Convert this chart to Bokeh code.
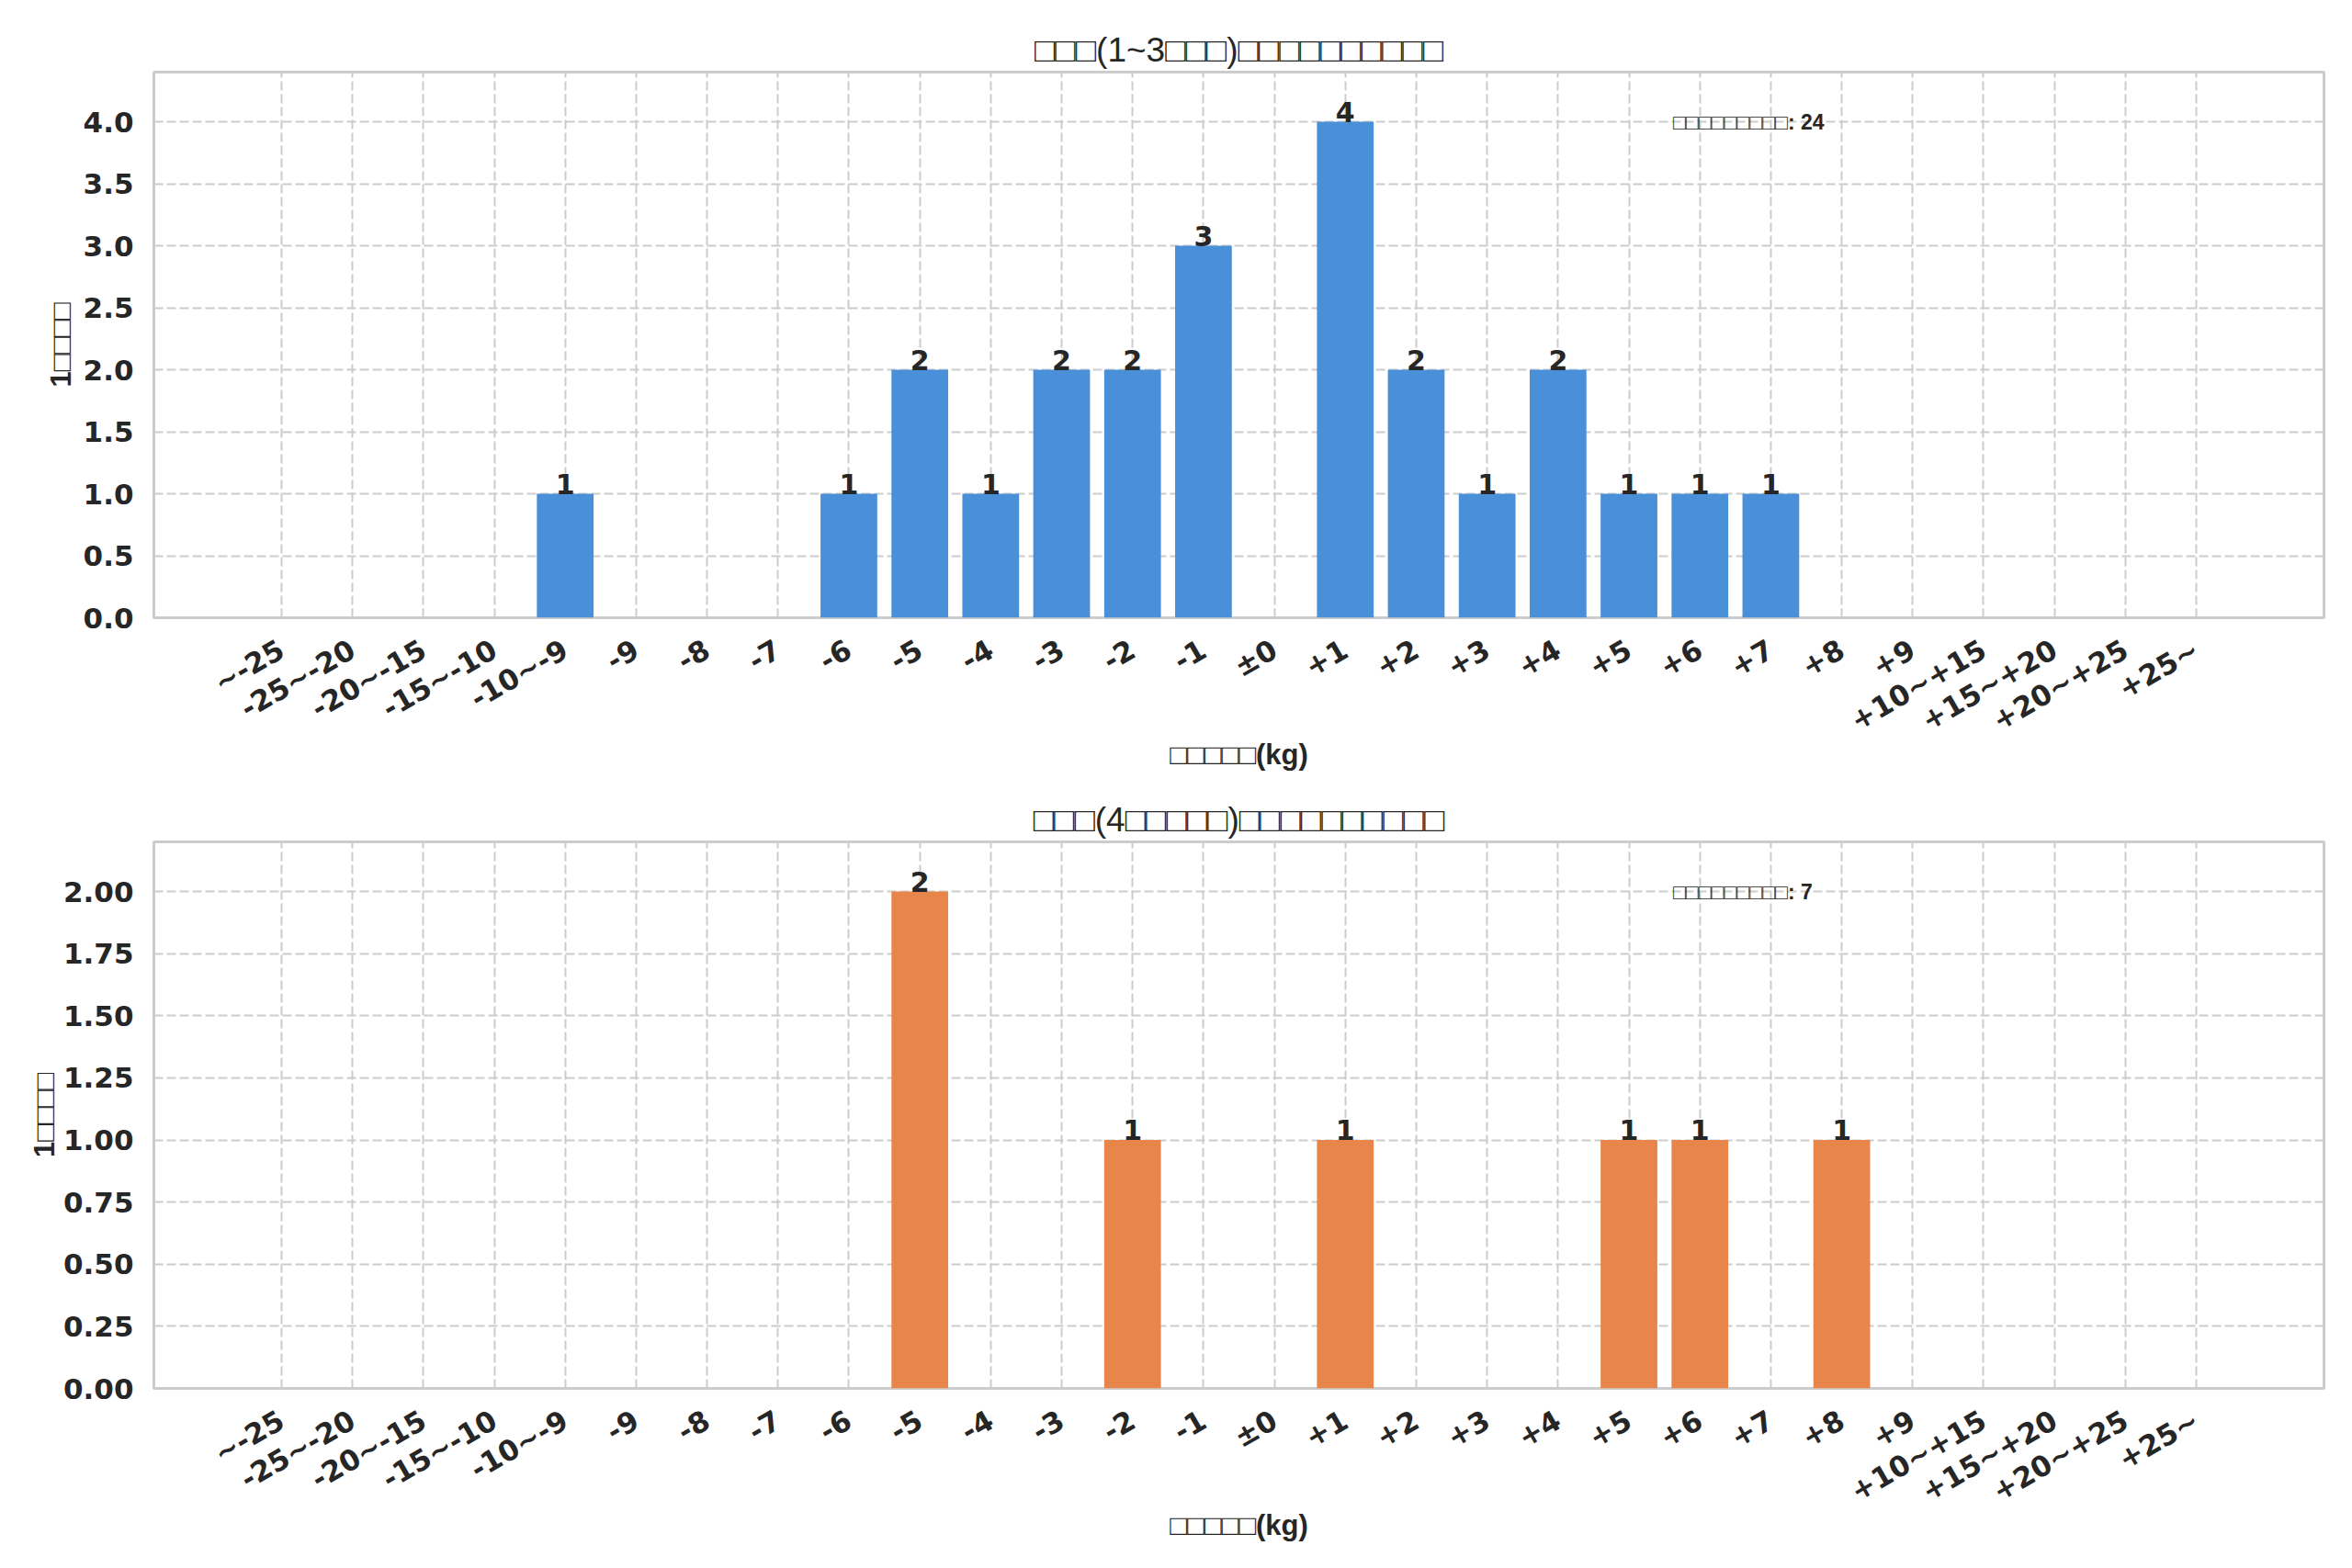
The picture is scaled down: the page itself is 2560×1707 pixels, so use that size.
import math
from bokeh.plotting import figure
from bokeh.models import Range1d, FactorRange, FixedTicker, NumeralTickFormatter, Label
from bokeh.layouts import column
from bokeh.embed import file_html
from bokeh.resources import INLINE
from bokeh.core.properties import value

# ---------------- data ----------------
categories = ["~-25", "-25~-20", "-20~-15", "-15~-10", "-10~-9",
              "-9", "-8", "-7", "-6", "-5", "-4", "-3", "-2", "-1",
              "±0",
              "+1", "+2", "+3", "+4", "+5", "+6", "+7", "+8", "+9",
              "+10~+15", "+15~+20", "+20~+25", "+25~"]
counts_short = [0, 0, 0, 0, 1,
                0, 0, 0, 1, 2, 1, 2, 2, 3,
                0,
                4, 2, 1, 2, 1, 1, 1, 0, 0,
                0, 0, 0, 0]
counts_long = [0, 0, 0, 0, 0,
               0, 0, 0, 0, 2, 0, 0, 1, 0,
               0,
               1, 0, 0, 0, 1, 1, 0, 1, 0,
               0, 0, 0, 0]
yticks_short = [0.0, 0.5, 1.0, 1.5, 2.0, 2.5, 3.0, 3.5, 4.0]
yticks_long = [0.0, 0.25, 0.5, 0.75, 1.0, 1.25, 1.5, 1.75, 2.0]
title_short = "□□□(1~3□□□)□□□□□□□□□□"
title_long = "□□□(4□□□□□)□□□□□□□□□□"
y_label = "1□□□□"
x_label = "□□□□□(kg)"
note_prefix = "□□□□□□□□□: "

# ---------------- style ----------------
FONT = "DejaVu Sans"
BOXFONT = "Liberation Sans"
TXT = "#262626"
GRID = "#cccccc"
PAD = 1.3


def make_fig(title, counts, color, yticks, fmt, height, top_border,
             bottom_border, ylab_standoff):
    n = len(categories)
    ymax = max(counts) * 1.1
    p = figure(width=2544, height=height,
               x_range=FactorRange(*categories, range_padding=PAD,
                                   range_padding_units="absolute"),
               y_range=Range1d(0, ymax),
               output_backend="svg", toolbar_location=None,
               min_border_left=167, min_border_right=15,
               min_border_top=top_border, min_border_bottom=bottom_border,
               background_fill_color="white", border_fill_color="white")
    p.title.text = title
    p.title.align = "center"
    p.title.text_font = BOXFONT
    p.title.text_font_size = "37px"
    p.title.text_font_style = "normal"
    p.title.text_color = TXT
    p.title.standoff = 7

    p.vbar(x=categories, top=counts, width=0.8, fill_color=color,
           line_color=None)

    lab_x = [c for c, v in zip(categories, counts) if v > 0]
    lab_y = [v for v in counts if v > 0]
    p.text(x=lab_x, y=lab_y, text=[str(v) for v in lab_y],
           text_align="center", text_baseline="bottom",
           text_font=value(FONT), text_font_style="bold",
           text_font_size="30px", text_color=TXT)

    xs = -PAD
    xe = n + PAD
    p.add_layout(Label(x=xs + 0.7 * (xe - xs), y=0.93 * ymax,
                       text=note_prefix + str(sum(counts)),
                       text_font=BOXFONT, text_font_style="bold",
                       text_font_size="23px", text_color=TXT,
                       text_align="left", text_baseline="top"))

    p.outline_line_color = GRID
    p.outline_line_width = 3
    for g in (p.xgrid, p.ygrid):
        g.grid_line_color = GRID
        g.grid_line_dash = "10 4"
        g.grid_line_width = 2

    p.yaxis.ticker = FixedTicker(ticks=yticks)
    p.yaxis.formatter = NumeralTickFormatter(format=fmt)
    p.xaxis.major_label_orientation = math.pi / 6
    p.xaxis.axis_label = x_label
    p.yaxis.axis_label = y_label
    for ax in (p.xaxis, p.yaxis):
        ax.axis_line_color = None
        ax.major_tick_line_color = None
        ax.minor_tick_line_color = None
        ax.major_tick_out = 0
        ax.major_tick_in = 0
        ax.major_label_text_font = FONT
        ax.major_label_text_font_style = "bold"
        ax.major_label_text_font_size = "31px"
        ax.major_label_text_color = TXT
        ax.axis_label_text_font = BOXFONT
        ax.axis_label_text_font_style = "bold"
        ax.axis_label_text_font_size = "31px"
        ax.axis_label_text_color = TXT
    p.yaxis.major_label_standoff = 22
    p.xaxis.major_label_standoff = 32
    p.yaxis.axis_label_standoff = ylab_standoff
    p.xaxis.axis_label_standoff = -17
    return p


p1 = make_fig(title_short, counts_short, "#4a90d9", yticks_short, "0.0",
              850, 78, 178, 4)
p2 = make_fig(title_long, counts_long, "#e8854a", yticks_long, "0.00",
              839, 66, 178, 0)

layout = column(p1, p2)
open("out.html", "w").write(file_html(layout, INLINE))
